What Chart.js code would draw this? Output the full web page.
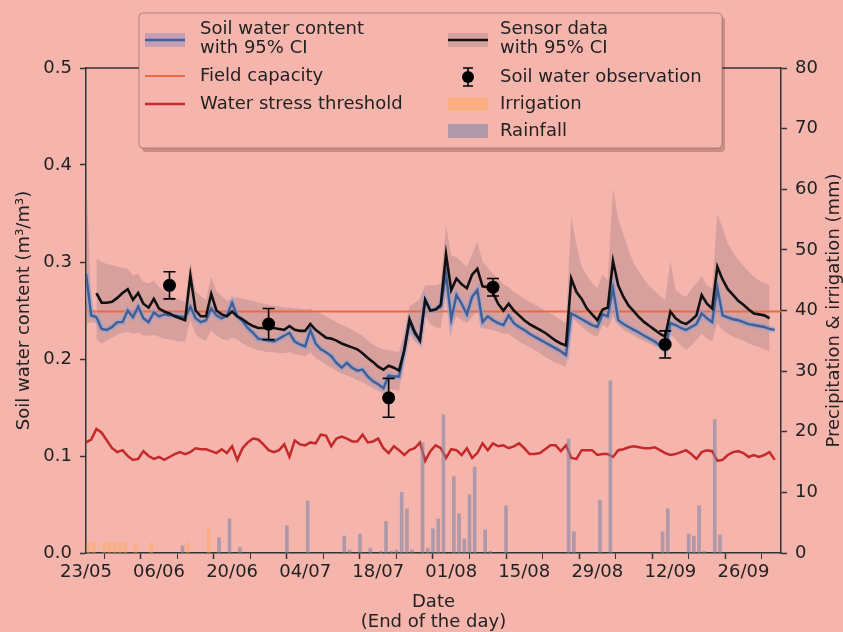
<!DOCTYPE html>
<html>
<head>
<meta charset="utf-8">
<script src="https://cdn.jsdelivr.net/npm/chart.js@4.4.1/dist/chart.umd.min.js"></script>
<style>
  html, body { margin: 0; padding: 0; background: #f5b5ac; }
  canvas { display: block; }
</style>
</head>
<body>
<canvas id="chart" width="843" height="632"></canvas>
<script>
// x axis: days since 23/05 (line values are end-of-day readings)
const xTickDays = [0, 14, 28, 42, 56, 70, 84, 98, 112, 126];
const xTickLabels = ['23/05', '06/06', '20/06', '04/07', '18/07', '01/08', '15/08', '29/08', '12/09', '26/09'];
const xMinorDays = [7, 21, 35, 49, 63, 77, 91, 105, 119];
const xMax = 133.2;
const yTicks = [0, 0.1, 0.2, 0.3, 0.4, 0.5];
const y2Ticks = [0, 10, 20, 30, 40, 50, 60, 70, 80];

// modelled soil water content, day 0..132
const soilWater = [
  0.288, 0.245, 0.243, 0.231, 0.230, 0.233, 0.238, 0.238, 0.250, 0.243,
  0.254, 0.242, 0.238, 0.248, 0.244, 0.246, 0.245, 0.245, 0.244, 0.243,
  0.254, 0.242, 0.238, 0.240, 0.252, 0.245, 0.242, 0.245, 0.258, 0.244,
  0.239, 0.232, 0.227, 0.221, 0.220, 0.219, 0.218, 0.221, 0.224, 0.227,
  0.218, 0.215, 0.213, 0.230, 0.216, 0.210, 0.207, 0.203, 0.196, 0.191,
  0.196, 0.191, 0.188, 0.189, 0.182, 0.177, 0.174, 0.170, 0.183, 0.182,
  0.182, 0.209, 0.238, 0.226, 0.219, 0.261, 0.250, 0.251, 0.254, 0.288,
  0.241, 0.266, 0.257, 0.246, 0.264, 0.271, 0.238, 0.244, 0.240, 0.237,
  0.235, 0.245, 0.237, 0.233, 0.230, 0.226, 0.223, 0.220, 0.217, 0.214,
  0.211, 0.208, 0.204, 0.247, 0.244, 0.241, 0.238, 0.235, 0.233, 0.246,
  0.244, 0.273, 0.240, 0.236, 0.233, 0.230, 0.227, 0.224, 0.221, 0.218,
  0.214, 0.209, 0.237, 0.235, 0.232, 0.230, 0.233, 0.236, 0.247, 0.242,
  0.238, 0.273, 0.245, 0.243, 0.241, 0.240, 0.238, 0.236, 0.235, 0.234,
  0.233, 0.231, 0.230
];
// CI of the model, only wide on the first days
const modelCiUpper = [0.400, 0.252, 0.249];
const modelCiLower = [0.236, 0.238, 0.237];

// sensor data, day 0..132
const sensor = [
  null, null, 0.268, 0.258, 0.258, 0.259, 0.263, 0.268, 0.272, 0.261,
  0.268, 0.257, 0.253, 0.262, 0.252, 0.249, 0.247, 0.244, 0.242, 0.240,
  0.286, 0.250, 0.244, 0.244, 0.267, 0.250, 0.246, 0.244, 0.249, 0.244,
  0.241, 0.237, 0.234, 0.232, 0.232, 0.232, 0.232, 0.231, 0.230, 0.234,
  0.230, 0.229, 0.229, 0.236, 0.230, 0.226, 0.222, 0.221, 0.219, 0.216,
  0.214, 0.212, 0.210, 0.206, 0.201, 0.197, 0.192, 0.189, 0.193, 0.191,
  0.188, 0.209, 0.241, 0.228, 0.219, 0.261, 0.250, 0.251, 0.256, 0.308,
  0.271, 0.283, 0.277, 0.273, 0.287, 0.293, 0.275, 0.274, 0.268, 0.257,
  0.250, 0.257, 0.250, 0.245, 0.240, 0.236, 0.233, 0.230, 0.227, 0.223,
  0.219, 0.216, 0.214, 0.283, 0.269, 0.262, 0.252, 0.246, 0.240, 0.251,
  0.253, 0.301, 0.276, 0.264, 0.255, 0.249, 0.243, 0.238, 0.234, 0.230,
  0.226, 0.223, 0.249, 0.242, 0.238, 0.236, 0.240, 0.245, 0.266, 0.257,
  0.252, 0.295, 0.282, 0.272, 0.266, 0.260, 0.256, 0.251, 0.247, 0.246,
  0.245, 0.242, null
];
const sensorCiUpper = [
  null, null, 0.303, 0.300, 0.298, 0.297, 0.295, 0.294, 0.293, 0.286,
  0.288, 0.279, 0.278, 0.281, 0.274, 0.270, 0.266, 0.263, 0.261, 0.259,
  0.300, 0.270, 0.265, 0.261, 0.285, 0.270, 0.265, 0.260, 0.262, 0.264,
  0.262, 0.261, 0.260, 0.258, 0.257, 0.256, 0.255, 0.254, 0.253, 0.253,
  0.252, 0.252, 0.251, 0.252, 0.249, 0.247, 0.244, 0.241, 0.238, 0.235,
  0.233, 0.230, 0.227, 0.224, 0.219, 0.215, 0.212, 0.210, 0.209, 0.208,
  0.207, 0.226, 0.254, 0.258, 0.262, 0.276, 0.276, 0.276, 0.278, 0.338,
  0.307, 0.305, 0.300, 0.295, 0.308, 0.321, 0.300, 0.294, 0.288, 0.283,
  0.277, 0.274, 0.269, 0.266, 0.262, 0.259, 0.256, 0.253, 0.250, 0.247,
  0.244, 0.240, 0.237, 0.347, 0.318, 0.295, 0.286, 0.278, 0.273, 0.287,
  0.281, 0.376, 0.345, 0.328, 0.312, 0.298, 0.290, 0.282, 0.275, 0.270,
  0.265, 0.261, 0.301, 0.271, 0.267, 0.264, 0.272, 0.278, 0.285, 0.276,
  0.273, 0.350, 0.335, 0.319, 0.310, 0.302, 0.296, 0.290, 0.285, 0.281,
  0.278, 0.276, null
];
const sensorCiLower = [
  null, null, 0.220, 0.216, 0.219, 0.222, 0.225, 0.227, 0.228, 0.226,
  0.227, 0.224, 0.224, 0.225, 0.223, 0.221, 0.220, 0.219, 0.218, 0.218,
  0.240, 0.226, 0.221, 0.219, 0.230, 0.224, 0.221, 0.219, 0.222, 0.220,
  0.216, 0.213, 0.211, 0.209, 0.208, 0.207, 0.207, 0.206, 0.206, 0.207,
  0.205, 0.204, 0.203, 0.207, 0.201, 0.198, 0.194, 0.191, 0.188, 0.185,
  0.183, 0.181, 0.178, 0.176, 0.173, 0.170, 0.167, 0.165, 0.169, 0.168,
  0.167, 0.199, 0.226, 0.218, 0.214, 0.245, 0.236, 0.233, 0.232, 0.268,
  0.233, 0.244, 0.240, 0.237, 0.243, 0.249, 0.232, 0.231, 0.230, 0.228,
  0.226, 0.226, 0.222, 0.218, 0.215, 0.212, 0.209, 0.206, 0.202, 0.199,
  0.196, 0.194, 0.192, 0.244, 0.238, 0.233, 0.229, 0.225, 0.223, 0.235,
  0.232, 0.244, 0.235, 0.230, 0.227, 0.224, 0.221, 0.218, 0.216, 0.213,
  0.211, 0.209, 0.226, 0.220, 0.214, 0.209, 0.214, 0.220, 0.226, 0.221,
  0.218, 0.237, 0.230, 0.226, 0.223, 0.221, 0.219, 0.216, 0.214, 0.212,
  0.210, 0.208, null
];

// water stress threshold, day 0..132
const stressThreshold = [
  0.114, 0.117, 0.128, 0.124, 0.116, 0.108, 0.104, 0.106, 0.100, 0.096,
  0.097, 0.105, 0.100, 0.097, 0.099, 0.096, 0.099, 0.102, 0.104, 0.102,
  0.104, 0.108, 0.107, 0.107, 0.105, 0.103, 0.107, 0.103, 0.110, 0.096,
  0.108, 0.114, 0.118, 0.117, 0.112, 0.106, 0.104, 0.106, 0.112, 0.099,
  0.116, 0.112, 0.111, 0.114, 0.113, 0.122, 0.121, 0.110, 0.118, 0.120,
  0.118, 0.115, 0.115, 0.122, 0.114, 0.115, 0.118, 0.108, 0.103, 0.110,
  0.106, 0.101, 0.106, 0.108, 0.114, 0.095, 0.105, 0.111, 0.108, 0.098,
  0.107, 0.106, 0.101, 0.108, 0.098, 0.103, 0.113, 0.106, 0.113, 0.110,
  0.111, 0.108, 0.110, 0.113, 0.108, 0.102, 0.102, 0.103, 0.107, 0.111,
  0.111, 0.105, 0.111, 0.098, 0.097, 0.106, 0.106, 0.106, 0.101, 0.102,
  0.102, 0.099, 0.106, 0.107, 0.109, 0.110, 0.109, 0.108, 0.108, 0.109,
  0.106, 0.103, 0.101, 0.102, 0.104, 0.106, 0.102, 0.097, 0.104, 0.106,
  0.105, 0.095, 0.096, 0.101, 0.104, 0.105, 0.103, 0.099, 0.101, 0.099,
  0.101, 0.104, 0.096
];
const fieldCapacity = 0.249;

// soil water observations with error
const obsDays = [16, 35, 58, 78, 111];
const obsValues = [0.276, 0.236, 0.160, 0.274, 0.215];
const obsErr = [0.014, 0.016, 0.020, 0.009, 0.014];

// daily totals (mm)
const irrigationDays = [0, 1, 3, 4, 5, 6, 7, 9, 12, 19, 23];
const irrigationMm = [1.7, 1.7, 1.7, 1.7, 1.7, 1.7, 1.7, 1.7, 1.7, 1.7, 4.1];
const rainDays = [18, 25, 27, 29, 38, 42, 49, 50, 52, 54, 56, 57, 58, 59, 60, 61, 62, 64, 65, 66,
  67, 68, 70, 71, 72, 73, 74, 76, 77, 80, 92, 93, 98, 100, 110, 111, 115, 116, 117, 118, 120, 121];
const rainMm = [1.2, 2.5, 5.6, 0.9, 4.5, 8.6, 2.8, 0.5, 3.1, 0.8, 0.3, 5.2, 0.3, 0.5, 10.0, 7.3, 0.5, 18.2, 0.8, 4.0,
  5.6, 22.8, 12.6, 6.5, 2.3, 9.6, 14.2, 3.8, 0.3, 7.8, 18.8, 3.5, 8.7, 28.4, 3.5, 7.3, 3.1, 2.8, 7.8, 0.3, 22.0, 3.0];

const FONT = 'DejaVu Sans';
const FS = 18;
const BG = '#f5b5ac';
const TXT = '#222';

const pts = arr => arr.map((v, i) => ({ x: i, y: v }));
const barPts = (days, vals) => days.map((d, i) => ({ x: d + 0.5, y: vals[i] }));

const bandColor = 'rgba(128, 100, 110, 0.25)';
const colors = {
  soil: '#3e5f97',
  soilHalo: 'rgba(150, 160, 205, 0.6)',
  sensor: '#111111',
  field: '#ea6a45',
  stress: '#c42a2a',
  irrigation: 'rgba(255, 170, 90, 0.5)',
  rain: 'rgba(128, 135, 165, 0.6)'
};

const background = {
  id: 'background',
  beforeDraw(chart) {
    const { ctx } = chart;
    ctx.save();
    ctx.fillStyle = BG;
    ctx.fillRect(0, 0, chart.width, chart.height);
    ctx.restore();
  }
};

const errorBars = {
  id: 'errorBars',
  afterDatasetsDraw(chart) {
    const { ctx, scales: { x, y } } = chart;
    ctx.save();
    ctx.strokeStyle = '#000';
    ctx.lineWidth = 1.6;
    obsDays.forEach((d, i) => {
      const px = x.getPixelForValue(d);
      const top = y.getPixelForValue(obsValues[i] + obsErr[i]);
      const bot = y.getPixelForValue(obsValues[i] - obsErr[i]);
      ctx.beginPath();
      ctx.moveTo(px, top); ctx.lineTo(px, bot);
      ctx.moveTo(px - 6, top); ctx.lineTo(px + 6, top);
      ctx.moveTo(px - 6, bot); ctx.lineTo(px + 6, bot);
      ctx.stroke();
    });
    ctx.restore();
  }
};

// top spine, right axis title and the two-column legend box
const extras = {
  id: 'extras',
  afterDraw(chart) {
    const { ctx, chartArea: a } = chart;
    ctx.save();
    ctx.strokeStyle = '#333';
    ctx.lineWidth = 1.5;
    ctx.beginPath();
    ctx.moveTo(a.left, a.top);
    ctx.lineTo(a.right, a.top);
    ctx.stroke();

    // right title, reads bottom to top like the left one
    ctx.fillStyle = TXT;
    ctx.font = `${FS}px "${FONT}"`;
    ctx.textAlign = 'center';
    ctx.textBaseline = 'middle';
    ctx.translate(834, (a.top + a.bottom) / 2);
    ctx.rotate(-Math.PI / 2);
    ctx.fillText('Precipitation & irrigation (mm)', 0, 0);
    ctx.restore();

    // legend
    ctx.save();
    const bx = 139, by = 13, bw = 583, bh = 135;
    ctx.fillStyle = 'rgba(90, 40, 40, 0.28)';
    ctx.beginPath();
    ctx.roundRect(bx + 3, by + 4, bw, bh, 4);
    ctx.fill();
    ctx.fillStyle = BG;
    ctx.strokeStyle = 'rgba(130, 95, 95, 0.55)';
    ctx.lineWidth = 1;
    ctx.beginPath();
    ctx.roundRect(bx, by, bw, bh, 4);
    ctx.fill();
    ctx.stroke();

    const line = (x0, yy, color, w) => {
      ctx.strokeStyle = color;
      ctx.lineWidth = w;
      ctx.beginPath();
      ctx.moveTo(x0, yy);
      ctx.lineTo(x0 + 40, yy);
      ctx.stroke();
    };
    const rect = (x0, yy, color) => {
      ctx.fillStyle = color;
      ctx.fillRect(x0, yy - 7, 40, 14);
    };
    const c1 = 145, c2 = 448, t1 = 200, t2 = 500;

    rect(c1, 40, 'rgba(140, 130, 190, 0.45)');
    line(c1, 40, colors.soil, 2.5);
    line(c1, 76, colors.field, 2);
    line(c1, 104, colors.stress, 2.5);

    rect(c2, 40, bandColor);
    line(c2, 40, colors.sensor, 2.5);
    // observation marker with error bar
    ctx.strokeStyle = '#000';
    ctx.lineWidth = 1.6;
    ctx.beginPath();
    ctx.moveTo(468, 68); ctx.lineTo(468, 86);
    ctx.moveTo(463, 68); ctx.lineTo(473, 68);
    ctx.moveTo(463, 86); ctx.lineTo(473, 86);
    ctx.stroke();
    ctx.fillStyle = '#000';
    ctx.beginPath();
    ctx.arc(468, 77, 6, 0, Math.PI * 2);
    ctx.fill();
    rect(c2, 104, colors.irrigation);
    rect(c2, 131, colors.rain);

    ctx.fillStyle = TXT;
    ctx.font = `${FS}px "${FONT}"`;
    ctx.textAlign = 'left';
    ctx.textBaseline = 'middle';
    ctx.fillText('Soil water content', t1, 29);
    ctx.fillText('with 95% CI', t1, 48);
    ctx.fillText('Field capacity', t1, 76);
    ctx.fillText('Water stress threshold', t1, 104);
    ctx.fillText('Sensor data', t2, 29);
    ctx.fillText('with 95% CI', t2, 48);
    ctx.fillText('Soil water observation', t2, 77);
    ctx.fillText('Irrigation', t2, 104);
    ctx.fillText('Rainfall', t2, 131);
    ctx.restore();
  }
};

const lineDefaults = { type: 'line', pointRadius: 0, tension: 0, yAxisID: 'y', spanGaps: false };

new Chart(document.getElementById('chart'), {
  type: 'bar',
  data: {
    datasets: [
      { ...lineDefaults, label: 'Sensor CI upper', data: pts(sensorCiUpper), borderWidth: 0,
        borderColor: 'rgba(0,0,0,0)', backgroundColor: bandColor, fill: '+1', order: 10 },
      { ...lineDefaults, label: 'Sensor CI lower', data: pts(sensorCiLower), borderWidth: 0,
        borderColor: 'rgba(0,0,0,0)', fill: false, order: 10 },
      { ...lineDefaults, label: 'Model CI upper', data: pts(modelCiUpper), borderWidth: 0,
        borderColor: 'rgba(0,0,0,0)', backgroundColor: bandColor, fill: '+1', order: 10 },
      { ...lineDefaults, label: 'Model CI lower', data: pts(modelCiLower), borderWidth: 0,
        borderColor: 'rgba(0,0,0,0)', fill: false, order: 10 },
      { ...lineDefaults, label: 'Field capacity', data: [{ x: 0, y: fieldCapacity }, { x: xMax, y: fieldCapacity }],
        borderColor: colors.field, borderWidth: 2, order: 8 },
      { ...lineDefaults, label: 'Water stress threshold', data: pts(stressThreshold),
        borderColor: colors.stress, borderWidth: 2.5, order: 7 },
      { ...lineDefaults, label: 'Soil water halo', data: pts(soilWater),
        borderColor: colors.soilHalo, borderWidth: 6, order: 6 },
      { ...lineDefaults, label: 'Soil water content', data: pts(soilWater),
        borderColor: colors.soil, borderWidth: 2.4, order: 5 },
      { ...lineDefaults, label: 'Sensor data', data: pts(sensor),
        borderColor: colors.sensor, borderWidth: 2.6, order: 4 },
      { ...lineDefaults, label: 'Soil water observation',
        data: obsDays.map((d, i) => ({ x: d, y: obsValues[i] })),
        showLine: false, pointRadius: 6.5, pointBackgroundColor: '#000', pointBorderWidth: 0, order: 3 },
      { type: 'bar', label: 'Irrigation', data: barPts(irrigationDays, irrigationMm), yAxisID: 'y2',
        backgroundColor: colors.irrigation, barThickness: 3, grouped: false, order: 2 },
      { type: 'bar', label: 'Rainfall', data: barPts(rainDays, rainMm), yAxisID: 'y2',
        backgroundColor: colors.rain, barThickness: 3, grouped: false, order: 1 }
    ]
  },
  options: {
    responsive: false,
    animation: false,
    devicePixelRatio: 1,
    layout: { padding: { top: 68, left: 0, right: 0, bottom: 0 } },
    plugins: { legend: { display: false }, tooltip: { enabled: false } },
    scales: {
      x: {
        type: 'linear',
        min: 0,
        max: xMax,
        offset: false,
        afterFit: s => { s.height = 79; },
        afterBuildTicks: s => {
          s.ticks = [...xTickDays, ...xMinorDays].sort((a, b) => a - b).map(v => ({ value: v }));
        },
        grid: {
          drawOnChartArea: false,
          tickLength: 6,
          tickColor: '#333',
          tickWidth: c => (xTickDays.includes(c.tick && c.tick.value) ? 1.5 : 1)
        },
        border: { color: '#333', width: 1.5 },
        ticks: {
          autoSkip: false,
          maxRotation: 0,
          padding: 3,
          color: TXT,
          font: { family: FONT, size: FS },
          callback: v => {
            const i = xTickDays.indexOf(v);
            return i >= 0 ? xTickLabels[i] : '';
          }
        },
        title: {
          display: true,
          text: ['Date', '(End of the day)'],
          color: TXT,
          font: { family: FONT, size: FS, lineHeight: 20 / FS },
          padding: { top: 0, bottom: 0 }
        }
      },
      y: {
        position: 'left',
        min: 0,
        max: 0.5,
        afterFit: s => { s.width = 86; },
        afterBuildTicks: s => { s.ticks = yTicks.map(v => ({ value: v })); },
        grid: { drawOnChartArea: false, tickLength: 6, tickColor: '#333', tickWidth: 1.5 },
        border: { color: '#333', width: 1.5 },
        ticks: {
          padding: 8,
          color: TXT,
          font: { family: FONT, size: FS },
          callback: v => v.toFixed(1)
        },
        title: {
          display: true,
          text: 'Soil water content (m\u00b3/m\u00b3)',
          color: TXT,
          font: { family: FONT, size: FS },
          padding: { top: 14, bottom: 0 }
        }
      },
      y2: {
        position: 'right',
        min: 0,
        max: 80,
        afterFit: s => { s.width = 62; },
        afterBuildTicks: s => { s.ticks = y2Ticks.map(v => ({ value: v })); },
        grid: { drawOnChartArea: false, tickLength: 6, tickColor: '#333', tickWidth: 1.5 },
        border: { color: '#333', width: 1.5 },
        ticks: {
          padding: 8,
          color: TXT,
          font: { family: FONT, size: FS },
          callback: v => String(v)
        }
      }
    }
  },
  plugins: [background, errorBars, extras]
});
</script>
</body>
</html>
